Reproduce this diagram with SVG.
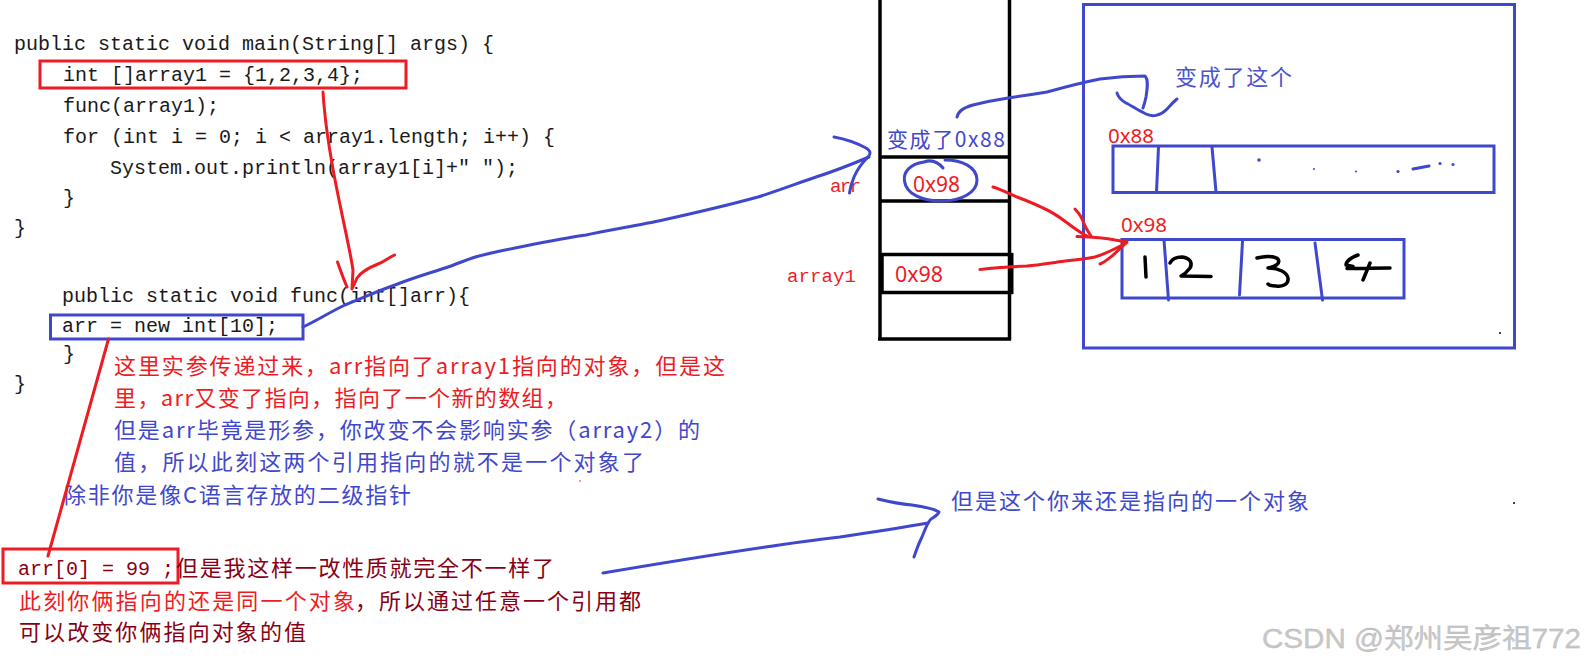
<svg xmlns="http://www.w3.org/2000/svg" width="1587" height="667" viewBox="0 0 1587 667">
<defs>
<style>
.code{font-family:"Liberation Mono","DejaVu Sans Mono",monospace;font-size:20px;fill:#1a1a1a}
.cjk{font-family:"Noto Sans CJK SC","Noto Sans",sans-serif;font-size:22px}
.red{fill:#ed1c24}
.blue{fill:#3f48cc}
.mar{fill:#880015}
.lbl{font-family:"Liberation Mono","DejaVu Sans Mono",monospace;font-size:19px;fill:#ed1c24}
.hex{font-family:"Noto Sans","Liberation Sans",sans-serif;font-size:21px}
.bs{fill:none;stroke:#3f48cc;stroke-width:3;stroke-linecap:round;stroke-linejoin:round}
.rs{fill:none;stroke:#ed1c24;stroke-width:3;stroke-linecap:round;stroke-linejoin:round}
.ks{fill:none;stroke:#000;stroke-width:3.5}
.hw{fill:none;stroke:#000;stroke-width:3.5;stroke-linecap:round;stroke-linejoin:round}
</style>
</defs>
<rect width="1587" height="667" fill="#fff"/>

<g id="code">
<text class="code" x="14" y="50">public static void main(String[] args) {</text>
<text class="code" x="63" y="81">int []array1 = {1,2,3,4};</text>
<text class="code" x="63" y="112">func(array1);</text>
<text class="code" x="63" y="143">for (int i = 0; i &lt; array1.length; i++) {</text>
<text class="code" x="110" y="174">System.out.println(array1[i]+" ");</text>
<text class="code" x="63" y="204">}</text>
<text class="code" x="14" y="234">}</text>
<text class="code" x="62" y="302">public static void func(int[]arr){</text>
<text class="code" x="62" y="332">arr = new int[10];</text>
<text class="code" x="63" y="360">}</text>
<text class="code" x="14" y="390">}</text>
</g>

<g id="code-boxes">
<rect x="40" y="61" width="366" height="27" fill="none" stroke="#ed1c24" stroke-width="3"/>
<rect x="50.5" y="315" width="252.5" height="24" fill="none" stroke="#3f48cc" stroke-width="3"/>
<rect x="3" y="549" width="175" height="34" fill="none" stroke="#ed1c24" stroke-width="3"/>
</g>

<g id="notes">
<text class="cjk red" x="114" y="373.5" textLength="611" lengthAdjust="spacing">这里实参传递过来，arr指向了array1指向的对象，但是这</text>
<text class="cjk red" x="114" y="406" textLength="453" lengthAdjust="spacing">里，arr又变了指向，指向了一个新的数组，</text>
<text class="cjk blue" x="114" y="438" textLength="586" lengthAdjust="spacing">但是arr毕竟是形参，你改变不会影响实参（array2）的</text>
<text class="cjk blue" x="114" y="470" textLength="530" lengthAdjust="spacing">值，所以此刻这两个引用指向的就不是一个对象了</text>
<text class="cjk blue" x="64" y="503" textLength="347" lengthAdjust="spacing">除非你是像C语言存放的二级指针</text>
</g>

<g id="bottom-note">
<text class="code mar" x="18" y="575">arr[0] = 99 ;</text>
<text class="cjk mar" x="176" y="576" textLength="378" lengthAdjust="spacing">但是我这样一改性质就完全不一样了</text>
<text class="cjk red" x="19" y="609" textLength="336" lengthAdjust="spacing">此刻你俩指向的还是同一个对象</text>
<text class="cjk mar" x="355" y="609" textLength="286" lengthAdjust="spacing">，所以通过任意一个引用都</text>
<text class="cjk mar" x="19" y="640" textLength="287" lengthAdjust="spacing">可以改变你俩指向对象的值</text>
</g>

<g id="note-right">
<text class="cjk blue" x="951" y="509" textLength="358" lengthAdjust="spacing">但是这个你来还是指向的一个对象</text>
</g>

<g id="stack">
<line class="ks" x1="880" y1="0" x2="880" y2="340"/>
<line class="ks" x1="1009.5" y1="0" x2="1009.5" y2="340"/>
<line class="ks" x1="880" y1="157" x2="1009.5" y2="157"/>
<line class="ks" x1="880" y1="201" x2="1009.5" y2="201"/>
<line class="ks" x1="878" y1="339" x2="1011" y2="339"/>
<rect class="ks" x="882" y="254.5" width="129" height="38"/>
<line x1="1011" y1="253" x2="1011" y2="294" stroke="#000" stroke-width="5"/>
<text class="hex blue" x="887" y="146.5" textLength="118" lengthAdjust="spacing" style="font-family:'Noto Sans CJK SC','Noto Sans',sans-serif">变成了0x88</text>
<text class="lbl" x="830" y="191.5" textLength="31" lengthAdjust="spacing">arr</text>
<text class="hex red" x="913" y="191.5" textLength="47" lengthAdjust="spacingAndGlyphs">0x98</text>
<text class="lbl" x="787" y="281.5" textLength="69" lengthAdjust="spacing">array1</text>
<text class="hex red" x="895" y="281.5" textLength="48" lengthAdjust="spacingAndGlyphs">0x98</text>
<path class="bs" d="M943,168 C938,162 932,159 924,162 C910,164 903,172 904.5,181 C906,194 922,201 942,201 C962,201 977,192 977,180 C977,167 962,160 945,160"/>
</g>

<g id="heap">
<rect x="1083.5" y="4.5" width="431" height="343.5" fill="none" stroke="#3f48cc" stroke-width="3"/>
<text class="cjk blue" x="1175" y="85" textLength="117" lengthAdjust="spacing" style="fill:#4b53cf">变成了这个</text>
<text class="hex red" x="1108" y="143" textLength="46" lengthAdjust="spacingAndGlyphs" style="font-size:20px">0x88</text>
<rect x="1113" y="146" width="381" height="46.5" fill="none" stroke="#3f48cc" stroke-width="3"/>
<path class="bs" d="M1158.5,147 L1156.5,192 M1212,147 L1216,192"/>
<g fill="#3f48cc">
<circle cx="1259" cy="160" r="1.8"/>
<circle cx="1314" cy="169" r="1"/>
<circle cx="1356" cy="171.5" r="1"/>
<circle cx="1398" cy="171.5" r="1.6"/>
<circle cx="1440" cy="163.5" r="1.6"/>
<circle cx="1453" cy="164.5" r="1.6"/>
</g>
<path class="bs" d="M1413,169 L1429,166"/>
<text class="hex red" x="1121" y="232" textLength="46" lengthAdjust="spacingAndGlyphs" style="font-size:20px">0x98</text>
<rect x="1122" y="239.5" width="282" height="58.5" fill="none" stroke="#3f48cc" stroke-width="3"/>
<path class="bs" d="M1164,240 L1168.5,300 M1242.5,241.5 L1239.5,295 M1315,243 L1322.5,300"/>
<path class="hw" d="M1145,257 L1146,277"/>
<path class="hw" d="M1170,263 C1172,259 1176,257 1182,257 C1190,258 1193,263 1190,268 C1187,272 1183,275 1181,276 L1211,276.5"/>
<path class="hw" d="M1257,258 C1264,256 1274,255.5 1278,259 C1281,264 1274,267 1268,268 C1278,268 1287,272 1288,278 C1289,285 1281,287 1276,286 C1272,286 1269,285 1268,284"/>
<path class="hw" d="M1358,255 C1352,257 1346,261 1346,265 L1353,266.5 M1347,268.5 L1390,268 M1370,263 L1363,280"/>
<circle cx="1500" cy="333" r="1" fill="#000"/>
</g>

<g id="connectors">
<path class="rs" d="M323,92 C325,125 331,160 337,190 C344,225 350,250 353,270 L352,289"/>
<path class="rs" d="M337.5,262 C341,272 344,280 347,287"/>
<path class="rs" d="M394.5,255 C388,258 384,262 378,264 C368,268 361,272 357,278 L353,287"/>
<path class="bs" d="M303,327 C318,320 330,312 345,305 C365,297 380,290 395,285 C415,277 430,273 445,268 C460,263 472,257 483,255 C500,251 510,249 525,246 C545,242 565,238 586,235 C610,230 640,225 663,220 C690,214 725,206 758,197 C780,190 798,183 816,177 C835,171 850,165 869,157"/>
<path class="bs" d="M834,137 C845,139 855,142 866,148 C871,151 871,154 868,157 C862,163 857,170 854,177 C851,184 850,189 849.5,193"/>
<path class="bs" d="M957,117 C958,112 962,108 973,105 C985,102 995,100 1008,98 C1022,96 1035,94 1047,92 C1065,87 1085,82 1100,79 C1115,77 1130,76 1145,76 C1149,80 1147,90 1146,97 C1145,102 1144,105 1143,108"/>
<path class="bs" d="M1117,93 C1118,97 1121,100 1126,103 C1132,106 1138,110 1146,114 C1152,117 1160,116 1166,110 C1170,106 1173,102 1177,99"/>
<path class="rs" d="M993,187 C1000,189 1008,193 1017,197 C1025,200 1035,204 1043,208 C1050,211 1058,216 1066,222 C1073,227 1079,232 1087,236"/>
<path class="rs" d="M1075,209 C1080,214 1083,220 1085,226 C1087,230 1089,233 1091,236"/>
<path class="rs" d="M1077,236.5 C1090,237 1105,238 1115,240 L1127,242"/>
<path class="rs" d="M980,269.5 C990,268 1005,267 1027,266 C1040,265 1050,263 1065,261 C1075,260 1085,259 1095,257 C1105,254 1115,249 1126,243"/>
<path class="rs" d="M1100,264 C1105,262 1108,259 1112,256 C1117,252 1121,247 1126,243"/>
<path class="rs" d="M108.5,339 L48,556"/>
<path class="bs" d="M603,573 C680,560 780,544 840,537 C880,531 905,527 928,523"/>
<path class="bs" d="M878,499 C890,502 900,504 912,505 C925,507 935,509 939,512 C938,515 934,517 931,519 C927,523 925,530 922,537 C918,545 916,551 914,557"/>
<circle cx="1514" cy="503" r="1" fill="#000"/>
<circle cx="580" cy="481" r="0.8" fill="#ed1c24"/>
</g>

<g id="watermark">
<text x="1262" y="648" textLength="319" lengthAdjust="spacingAndGlyphs" style="font-family:'Liberation Sans','Noto Sans CJK SC',sans-serif;font-size:27px;fill:#c9c9c9;stroke:#b0b0b0;stroke-width:0.3">CSDN @郑州吴彦祖772</text>
</g>
</svg>
